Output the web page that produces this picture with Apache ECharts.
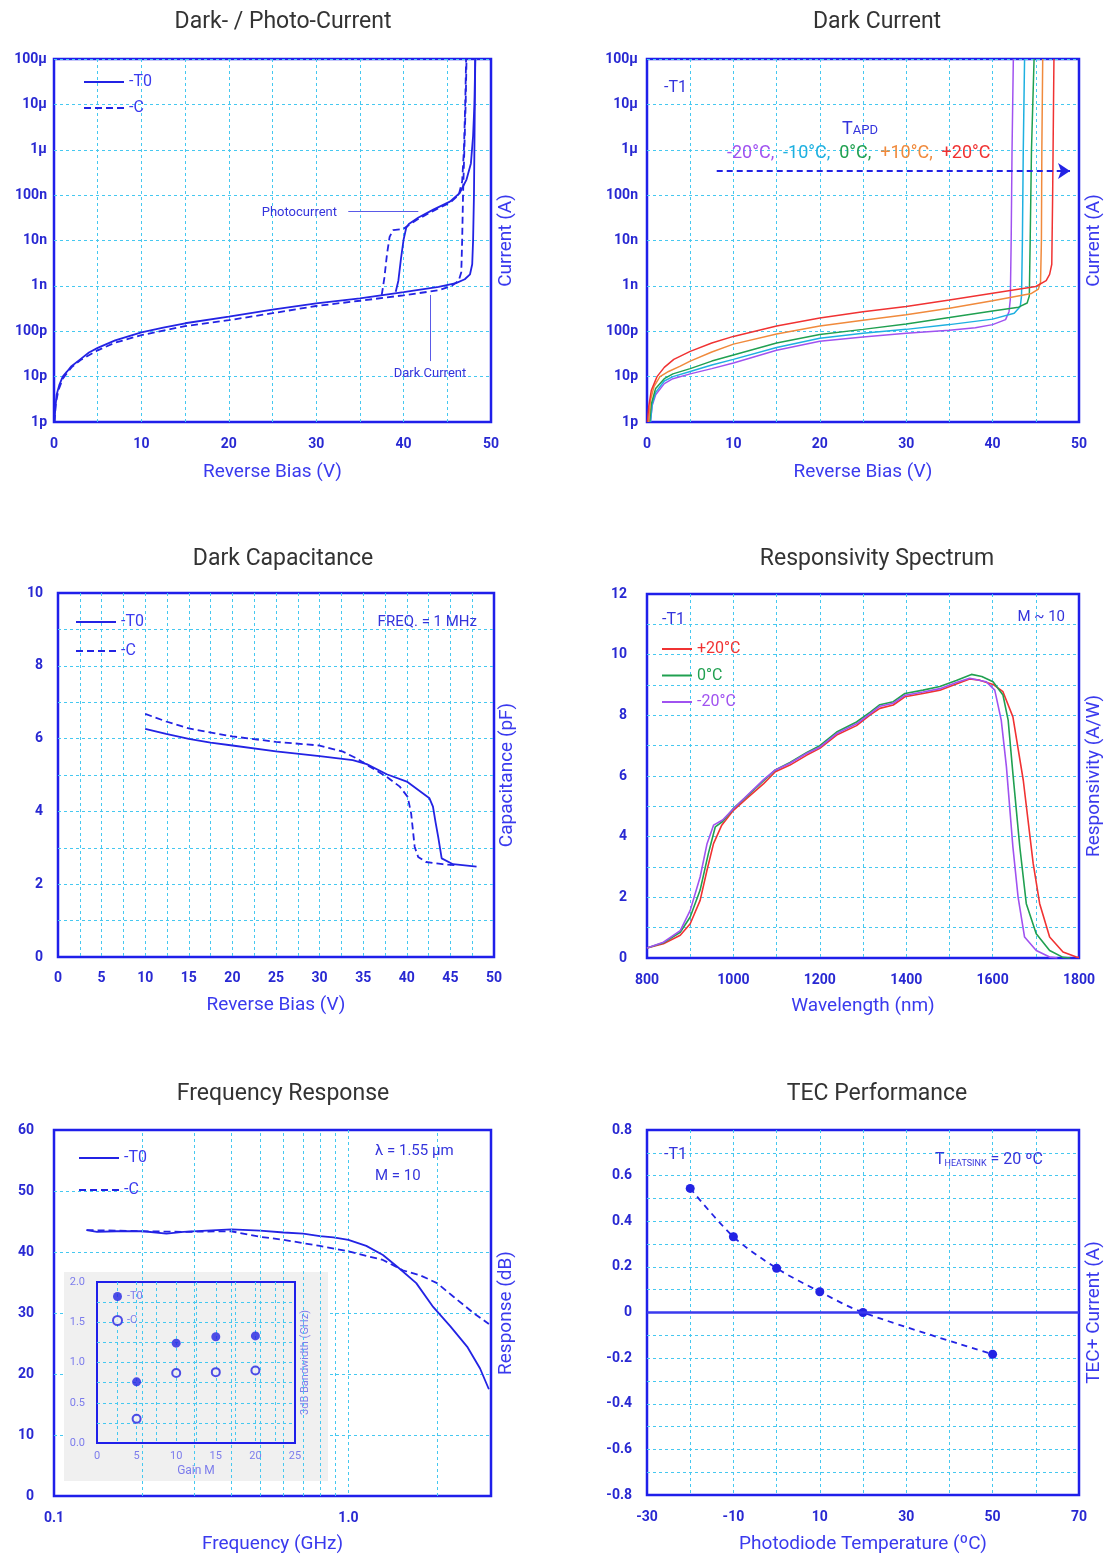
<!DOCTYPE html>
<html><head><meta charset="utf-8">
<script src="https://cdn.jsdelivr.net/npm/echarts@6/dist/echarts.min.js"></script>
<style>html,body{margin:0;padding:0;background:#fff}#c{width:1118px;height:1558px}</style>
</head><body><div id="c"></div>
<script>
// ---------------- DATA ----------------
const panelTitles = ['Dark- / Photo-Current','Dark Current','Dark Capacitance','Responsivity Spectrum','Frequency Response','TEC Performance'];
const currentTickLabels = ['1p','10p','100p','1n','10n','100n','1\u03bc','10\u03bc','100\u03bc'];

// Panel 1: dark / photo current (V, A)
const dcT0 = [[0.05,1e-12],[0.15,2e-12],[0.3,4e-12],[0.6,6.5e-12],[1,1e-11],[1.5,1.3e-11],[2,1.7e-11],[3,2.4e-11],[4,3.4e-11],[5,4.3e-11],[7,6.3e-11],[10,9.4e-11],[12.5,1.2e-10],[15,1.5e-10],[20,2.1e-10],[25,3.0e-10],[30,4.1e-10],[35,5.3e-10],[40,7.3e-10],[44,9.5e-10],[46,1.15e-9],[47,1.4e-9],[47.6,1.8e-9],[47.85,3e-9],[47.95,1e-8],[48.05,1e-7],[48.1,1e-6],[48.15,1e-5],[48.2,1e-4]];
const pcT0 = [[39.1,7.4e-10],[39.4,1.3e-9],[39.7,4e-9],[40.0,1.05e-8],[40.3,1.9e-8],[40.6,2.3e-8],[41.7,3.2e-8],[43.4,4.8e-8],[45.3,7.2e-8],[46.4,1.1e-7],[47.2,2.2e-7],[47.7,5e-7],[47.95,2e-6],[48.1,1e-5],[48.2,1e-4]];
const dcC = [[0.05,1e-12],[0.2,2.5e-12],[0.5,5e-12],[1,9e-12],[2,1.6e-11],[3,2.3e-11],[5,3.8e-11],[7,5.6e-11],[10,8.2e-11],[15,1.3e-10],[20,1.75e-10],[25,2.5e-10],[30,3.6e-10],[35,4.7e-10],[40,6.2e-10],[44,8e-10],[45.5,1e-9],[46.3,1.3e-9],[46.6,2e-9],[46.7,1e-8],[46.8,1e-7],[46.95,1e-6],[47.1,1e-5],[47.2,1e-4]];
const pcC = [[37.5,6.3e-10],[37.8,1.5e-9],[38.1,5e-9],[38.4,1.2e-8],[38.8,1.7e-8],[40.0,1.8e-8],[40.6,2.2e-8],[41.7,3.0e-8],[43.4,4.5e-8],[45.3,6.8e-8],[46.3,1e-7],[46.7,2e-7],[46.9,1e-6],[47.05,1e-5],[47.15,1e-4]];

// Panel 2: dark current vs temperature (V, A)
const dcM20 = [[0.4,1e-12],[0.6,2.3e-12],[1,4e-12],[2,7e-12],[3,9e-12],[5,1.15e-11],[7.5,1.5e-11],[10,2e-11],[15,3.8e-11],[20,6e-11],[25,7.5e-11],[30,9e-11],[35,1.05e-10],[38,1.2e-10],[40,1.4e-10],[41.5,1.8e-10],[41.9,2.7e-10],[42.05,5e-10],[42.15,1e-8],[42.25,1e-6],[42.4,1e-4]];
const dcM10 = [[0.4,1e-12],[0.6,2.5e-12],[1,4.5e-12],[2,8e-12],[3,1e-11],[5,1.3e-11],[7.5,1.8e-11],[10,2.4e-11],[15,4.4e-11],[20,7e-11],[25,9e-11],[30,1.1e-10],[35,1.4e-10],[40,1.85e-10],[42.5,2.5e-10],[43.2,3.5e-10],[43.35,6e-10],[43.45,1e-8],[43.55,1e-6],[43.7,1e-4]];
const dc0 = [[0.3,1e-12],[0.5,2.5e-12],[1,5.5e-12],[2,9e-12],[3,1.15e-11],[5,1.5e-11],[7.5,2.2e-11],[10,3e-11],[15,5.5e-11],[20,8.5e-11],[25,1.1e-10],[30,1.45e-10],[35,2e-10],[40,2.8e-10],[43,3.4e-10],[44,4.2e-10],[44.25,6e-10],[44.35,1e-8],[44.5,1e-6],[44.8,1e-4]];
const dcP10 = [[0.2,1e-12],[0.4,3e-12],[0.8,6e-12],[1.5,1e-11],[2.5,1.3e-11],[3.85,1.7e-11],[5,2.2e-11],[7.5,3.5e-11],[10,5.2e-11],[15,8.7e-11],[20,1.3e-10],[25,1.75e-10],[30,2.3e-10],[35,3.2e-10],[40,4.7e-10],[44.5,6.8e-10],[45.3,8.5e-10],[45.55,1.2e-9],[45.65,1e-8],[45.7,1e-6],[45.8,1e-4]];
const dcP20 = [[0.05,1e-12],[0.2,2.2e-12],[0.5,5e-12],[1.16,1e-11],[2,1.6e-11],[3.1,2.4e-11],[5,3.6e-11],[7.5,5.5e-11],[10,7.7e-11],[15,1.3e-10],[20,1.95e-10],[25,2.7e-10],[30,3.5e-10],[35,4.9e-10],[40,6.9e-10],[45,9.7e-10],[46.2,1.3e-9],[46.6,1.8e-9],[46.85,3e-9],[46.95,1e-7],[47.05,1e-5],[47.1,1e-4]];

// Panel 3: capacitance (V, pF)
const capT0 = [[10,6.27],[12.4,6.13],[15,5.99],[17.5,5.89],[20,5.81],[25,5.65],[30,5.52],[33.8,5.41],[35.4,5.30],[37.7,5.02],[40,4.82],[42.6,4.36],[43.0,4.13],[43.3,3.7],[43.6,3.30],[44.0,2.71],[45.3,2.55],[48.0,2.48]];
const capC = [[10,6.68],[12.4,6.47],[15,6.28],[20,6.06],[25,5.91],[30,5.81],[32.7,5.64],[34.2,5.46],[35.4,5.28],[37.7,4.95],[39.2,4.68],[40.1,4.40],[40.5,3.94],[40.9,3.03],[41.3,2.75],[42.2,2.61],[44.1,2.55],[45.7,2.52]];

// Panel 4: responsivity (nm, A/W)
const respP20 = [[800,0.33],[838,0.47],[877,0.75],[900,1.13],[923,1.9],[939,2.9],[954,3.77],[973,4.38],[1000,4.87],[1031,5.26],[1070,5.75],[1097,6.14],[1131,6.36],[1170,6.69],[1200,6.91],[1239,7.35],[1285,7.66],[1316,8.01],[1339,8.23],[1370,8.34],[1397,8.61],[1439,8.72],[1478,8.83],[1516,9.03],[1547,9.20],[1570,9.16],[1601,9.02],[1624,8.78],[1647,7.95],[1671,5.86],[1694,3.11],[1709,1.79],[1732,0.69],[1763,0.20],[1794,0.03],[1800,0.02]];
const resp0 = [[800,0.33],[838,0.5],[877,0.85],[900,1.35],[923,2.24],[942,3.44],[958,4.32],[975,4.5],[1000,4.93],[1031,5.33],[1070,5.85],[1097,6.2],[1131,6.45],[1170,6.78],[1200,7.0],[1239,7.45],[1285,7.78],[1316,8.1],[1339,8.35],[1370,8.45],[1397,8.72],[1439,8.83],[1478,8.95],[1516,9.15],[1551,9.35],[1575,9.28],[1601,9.11],[1624,8.67],[1636,7.84],[1647,6.08],[1663,3.66],[1678,1.79],[1701,0.80],[1732,0.25],[1763,0.02],[1780,0]];
const respM20 = [[800,0.33],[838,0.52],[877,0.9],[900,1.57],[923,2.67],[939,3.77],[954,4.38],[975,4.55],[1000,4.92],[1031,5.35],[1070,5.88],[1097,6.2],[1131,6.42],[1170,6.75],[1200,6.95],[1239,7.4],[1285,7.72],[1316,8.05],[1339,8.3],[1370,8.4],[1397,8.66],[1439,8.77],[1478,8.88],[1516,9.08],[1547,9.22],[1585,9.11],[1605,8.83],[1620,7.84],[1632,6.30],[1647,3.66],[1659,2.01],[1674,0.69],[1701,0.25],[1732,0.03],[1750,0]];

// Panel 5: frequency response (GHz, dB)
const freqT0 = [[0.129,43.6],[0.14,43.3],[0.163,43.4],[0.201,43.4],[0.241,43.0],[0.275,43.3],[0.33,43.5],[0.401,43.7],[0.501,43.5],[0.603,43.2],[0.702,43.0],[0.8,42.6],[0.89,42.4],[1.0,42.0],[1.15,41.0],[1.31,39.5],[1.49,37.3],[1.70,34.9],[1.94,31.0],[2.22,27.8],[2.53,24.5],[2.80,20.9],[3.0,17.5]];
const freqC = [[0.129,43.6],[0.2,43.4],[0.275,43.3],[0.4,43.4],[0.5,42.5],[0.6,42.0],[0.8,41.0],[1.0,40.1],[1.31,38.7],[1.53,37.0],[1.75,36.2],[2.0,34.9],[2.27,32.7],[2.66,30.0],[3.0,28.2]];
const freqMinorGrid = [0.2,0.3,0.4,0.5,0.6,0.7,0.8,0.9,2];

// Inset: 3dB bandwidth vs gain
const gainM = [5,10,15,20];
const bwT0 = [0.76,1.24,1.32,1.33];
const bwC = [0.30,0.87,0.88,0.90];

// Panel 6: TEC
const tecTemp = [-20,-10,0,10,20,50];
const tecCurrent = [0.544,0.332,0.194,0.091,0.0,-0.183];

// ---------------- STYLE ----------------
const BLUE='#2323e4', BORDER='#1f1fea', GRIDC='#45c8f0', LBL='#2828d2', NAMEC='#3a3aee', ANN='#3434dc', LIGHT='#7c7cec';
const RED='#f03232', ORANGE='#f08a3c', GREEN='#20a050', CYAN='#1eb0e0', PURPLE='#a052f0';
const F='Roboto, "Noto Sans", Arial, sans-serif';
const gl = {color: GRIDC, width: 1, type: [3, 3]};

function axisBase(g, type, o) {
  const a = {
    gridIndex: g, type: type,
    axisLine: {show:false}, axisTick: {show:false},
    axisLabel: {color: LBL, fontSize: 14, fontWeight: 'bold', fontFamily: F, margin: 12},
    splitLine: {show:true, showMinLine:false, showMaxLine:false, lineStyle: gl},
    minorTick: {show:false, splitNumber: 2},
    minorSplitLine: {show:false, lineStyle: gl},
    nameLocation: 'middle', nameGap: 40,
    nameTextStyle: {color: NAMEC, fontSize: 19, fontFamily: F}
  };
  for (const k in o) {
    if (a[k] && typeof a[k]==='object' && !Array.isArray(a[k]) && o[k] && typeof o[k]==='object' && !Array.isArray(o[k])) Object.assign(a[k], o[k]);
    else a[k] = o[k];
  }
  return a;
}
function nameAxis(g, name, gap, fs, z) {
  return {gridIndex:g, type:'value', position:'right', min:0, max:1, name:name, nameLocation:'middle', nameGap:gap, nameRotate:90,
    nameTextStyle:{color: fs ? LIGHT : NAMEC, fontSize: fs||19, fontFamily:F}, z: z||0,
    axisLine:{show:false}, axisTick:{show:false}, axisLabel:{show:false}, splitLine:{show:false}};
}
const fmtCur = v => currentTickLabels[Math.round(Math.log10(v)) + 12] || '';

const grids = [
 {left:54, top:59, width:437, height:363},
 {left:647, top:59, width:432, height:363},
 {left:58, top:593, width:436, height:364},
 {left:647, top:594, width:432, height:364},
 {left:54, top:1130, width:437, height:366},
 {left:647, top:1130, width:432, height:365},
 {left:97, top:1282, width:198, height:161, z:4, borderWidth:2}
].map(g => Object.assign({show:true, borderColor:BORDER, borderWidth:2.5, backgroundColor:'transparent'}, g));

const xAxes = [
 axisBase(0,'value',{min:0,max:50,interval:10,name:'Reverse Bias (V)',nameGap:41,minorSplitLine:{show:true},axisLabel:{margin:15}}),
 axisBase(1,'value',{min:0,max:50,interval:10,name:'Reverse Bias (V)',nameGap:41,minorSplitLine:{show:true},axisLabel:{margin:15}}),
 axisBase(2,'value',{min:0,max:50,interval:5,name:'Reverse Bias (V)',nameGap:39,minorSplitLine:{show:true},axisLabel:{margin:14}}),
 axisBase(3,'value',{min:800,max:1800,interval:200,name:'Wavelength (nm)',nameGap:39,minorSplitLine:{show:true},axisLabel:{margin:15,formatter:v=>String(v)}}),
 axisBase(4,'log',{min:0.1,max:3.05,logBase:10,name:'Frequency (GHz)',nameGap:39,axisLabel:{margin:15,
   formatter: v => Math.abs(v-0.1)<1e-6 ? '0.1' : (Math.abs(v-1)<1e-6 ? '1.0' : '')}}),
 axisBase(5,'value',{min:-30,max:70,interval:10,name:'Photodiode Temperature (\u00baC)',nameGap:40,axisLabel:{margin:15,
   formatter: v => ((Math.round(v)+30)%20===0 ? String(Math.round(v)) : '')}}),
 axisBase(6,'value',{min:0,max:25,interval:5,name:'Gain M',nameGap:22,z:4,minorSplitLine:{show:true},
   axisLabel:{color:LIGHT,fontSize:11,fontWeight:'normal',margin:8},nameTextStyle:{color:LIGHT,fontSize:12}})
];
const yAxes = [
 axisBase(0,'log',{min:1e-12,max:1e-4,logBase:10,axisLabel:{formatter:fmtCur,margin:7}}),
 axisBase(1,'log',{min:1e-12,max:1e-4,logBase:10,axisLabel:{formatter:fmtCur,margin:9}}),
 axisBase(2,'value',{min:0,max:10,interval:2,minorSplitLine:{show:true},axisLabel:{margin:15}}),
 axisBase(3,'value',{min:0,max:12,interval:2,minorSplitLine:{show:true},axisLabel:{margin:20}}),
 axisBase(4,'value',{min:0,max:60,interval:10,axisLabel:{margin:20}}),
 axisBase(5,'value',{min:-0.8,max:0.8,interval:0.2,minorSplitLine:{show:true},axisLabel:{margin:15,
   formatter: v => Math.abs(v)<1e-9 ? '0' : v.toFixed(1)}}),
 axisBase(6,'value',{min:0,max:2,interval:0.5,z:4,minorSplitLine:{show:true},
   axisLabel:{color:LIGHT,fontSize:11,fontWeight:'normal',margin:12,formatter:v=>v.toFixed(1)}}),
 nameAxis(0,'Current (A)',6), nameAxis(1,'Current (A)',6), nameAxis(2,'Capacitance (pF)',4),
 nameAxis(3,'Responsivity (A/W)',6), nameAxis(4,'Response (dB)',6), nameAxis(5,'TEC+ Current (A)',6),
 nameAxis(6,'3dB Bandwidth (GHz)',5,11,4)
];

function line(name, g, data, color, dash, width, extra) {
  return Object.assign({type:'line', name:name, xAxisIndex:g, yAxisIndex:g, data:data, symbol:'none', showSymbol:false, silent:true,
    lineStyle:{color:color, width: width||1.8, type: dash ? [7,4] : 'solid'}, itemStyle:{color:color}, z:2}, extra||{});
}

const series = [
  line('-T0',0,dcT0,BLUE,false,1.8,{markLine:{silent:true,symbol:'none',label:{show:false},
    lineStyle:{color:'#5a5ae8',width:1,type:'solid'},
    data:[[{coord:[33.67,4.36e-8]},{coord:[41.68,4.36e-8]}],[{coord:[43.1,2.2e-11]},{coord:[43.1,6.3e-10]}]]}}),
  line('-T0',0,pcT0,BLUE,false),
  line('-C',0,dcC,BLUE,true),
  line('-C',0,pcC,BLUE,true),

  line('T1 -20',1,dcM20,PURPLE,false,1.5),
  line('T1 -10',1,dcM10,CYAN,false,1.5),
  line('T1 0',1,dc0,GREEN,false,1.5),
  line('T1 +10',1,dcP10,ORANGE,false,1.5),
  line('T1 +20',1,dcP20,RED,false,1.5,{markLine:{silent:true,symbol:['none','arrow'],symbolSize:12,label:{show:false},
    lineStyle:{color:BLUE,width:2,type:[6,4]},itemStyle:{color:BLUE},
    data:[[{coord:[8.07,3.4e-7]},{coord:[48.96,3.4e-7]}]]}}),

  line('-T0',2,capT0,BLUE,false),
  line('-C',2,capC,BLUE,true),

  line('+20\u00b0C',3,respP20,RED,false,1.6),
  line('0\u00b0C',3,resp0,GREEN,false,1.6),
  line('-20\u00b0C',3,respM20,PURPLE,false,1.6),

  line('-T0',4,freqT0,BLUE,false),
  line('-C',4,freqC,BLUE,true,1.8,{markLine:{silent:true,symbol:'none',label:{show:false},lineStyle:gl,
    data: freqMinorGrid.map(v => ({xAxis:v}))}}),

  {type:'scatter', name:'bwT0', xAxisIndex:6, yAxisIndex:6, data: gainM.map((m,i)=>[m,bwT0[i]]), symbol:'circle', symbolSize:9,
    itemStyle:{color:BLUE}, z:5, silent:true},
  {type:'scatter', name:'bwC', xAxisIndex:6, yAxisIndex:6, data: gainM.map((m,i)=>[m,bwC[i]]), symbol:'circle', symbolSize:8,
    itemStyle:{color:'#f0f0f0', borderColor:BLUE, borderWidth:2}, z:5, silent:true},

  {type:'line', name:'TEC', xAxisIndex:5, yAxisIndex:5, data: tecTemp.map((t,i)=>[t,tecCurrent[i]]), symbol:'circle', symbolSize:9,
    showSymbol:true, smooth:0.3, silent:true, lineStyle:{color:BLUE,width:1.8,type:[6,5]}, itemStyle:{color:BLUE}, z:3,
    markLine:{silent:true,symbol:'none',label:{show:false},lineStyle:{color:'#3a3aee',width:2.5,type:'solid'},data:[{yAxis:0}]}}
];

const legTxt = {color:NAMEC, fontSize:16, fontFamily:F};
const noSym = {opacity:0};
const legends = [
  {data:['-T0','-C'], left:78, top:69, orient:'vertical', itemWidth:40, itemHeight:14, itemGap:10, selectedMode:false, textStyle:legTxt, itemStyle:noSym},
  {data:['-T0','-C'], left:70, top:609, orient:'vertical', itemWidth:40, itemHeight:14, itemGap:13, selectedMode:false, textStyle:legTxt, itemStyle:noSym},
  {data:[{name:'+20\u00b0C',textStyle:{color:RED}},{name:'0\u00b0C',textStyle:{color:GREEN}},{name:'-20\u00b0C',textStyle:{color:PURPLE}}],
    left:656, top:636, orient:'vertical', itemWidth:30, itemHeight:14, itemGap:10.5, selectedMode:false, textStyle:legTxt, itemStyle:noSym},
  {data:['-T0','-C'], left:73, top:1145, orient:'vertical', itemWidth:40, itemHeight:14, itemGap:16, selectedMode:false, textStyle:legTxt, itemStyle:noSym},
  {data:['bwT0','bwC'], left:112, top:1291, orient:'vertical', itemWidth:9, itemHeight:9, itemGap:13, selectedMode:false, z:6,
    formatter: n => ({bwT0:'-T0', bwC:'-C'})[n], textStyle:{color:LIGHT, fontSize:11, fontFamily:F}, padding:0}
];

function txt(text, x, y, size, align, extra) {
  return Object.assign({type:'text', silent:true, z:10, style:{text:text, x:x, y:y, fill:ANN, font: size+'px '+F,
    textAlign:align||'left', align:align||'left', textVerticalAlign:'middle', verticalAlign:'middle'}}, extra||{});
}
function richTxt(text, x, y, rich) {
  return {type:'text', silent:true, z:10, style:{text:text, x:x, y:y, rich:rich, fill:ANN, font:'16px '+F,
    textAlign:'left', align:'left', textVerticalAlign:'middle', verticalAlign:'middle'}};
}
const graphics = [
  {type:'rect', silent:true, z:3, shape:{x:64, y:1272, width:264, height:209}, style:{fill:'#f0f0f0'}},
  txt('Photocurrent', 337, 213, 13, 'right'),
  txt('Dark Current', 430, 374, 13, 'center'),
  txt('-T1', 664, 88, 16),
  richTxt('{t|T}{s|APD}', 842, 129, {t:{fontSize:18, fill:ANN, fontFamily:F}, s:{fontSize:13, fill:ANN, fontFamily:F, padding:[4,0,0,0]}}),
  richTxt('{p|-20\u00b0C,  }{c|-10\u00b0C,  }{g|0\u00b0C,  }{o|+10\u00b0C,  }{r|+20\u00b0C}', 727, 153, {
    p:{fontSize:18, fill:PURPLE, fontFamily:F}, c:{fontSize:18, fill:CYAN, fontFamily:F}, g:{fontSize:18, fill:GREEN, fontFamily:F},
    o:{fontSize:18, fill:ORANGE, fontFamily:F}, r:{fontSize:18, fill:RED, fontFamily:F}}),
  txt('FREQ. = 1 MHz', 477, 622, 15, 'right'),
  txt('-T1', 662, 620, 16),
  txt('M ~ 10', 1065, 617, 15, 'right'),
  txt('\u03bb = 1.55 \u03bcm', 375, 1151, 15),
  txt('M = 10', 375, 1176, 15),
  txt('-T1', 664, 1155, 16),
  richTxt('{t|T}{s|HEATSINK}{n| = 20 \u00baC}', 935, 1160, {t:{fontSize:16, fill:ANN, fontFamily:F}, s:{fontSize:9, fill:ANN, fontFamily:F, padding:[8,0,0,0]}, n:{fontSize:16, fill:ANN, fontFamily:F}})
];

const titlePos = [[278,6],[872,6],[278,543],[872,543],[278,1078],[872,1078]];
const titles = panelTitles.map((t,i) => ({text:t, left:titlePos[i][0], top:titlePos[i][1], textAlign:'center',
  textStyle:{color:'#333333', fontSize:23, fontWeight:'normal', fontFamily:F}}));

const chart = echarts.init(document.getElementById('c'), null, {renderer:'canvas'});
chart.setOption({
  animation:false, backgroundColor:'#ffffff', textStyle:{fontFamily:F},
  title:titles, grid:grids, xAxis:xAxes, yAxis:yAxes, legend:legends,
  graphic:{elements:graphics}, series:series
});
</script></body></html>
